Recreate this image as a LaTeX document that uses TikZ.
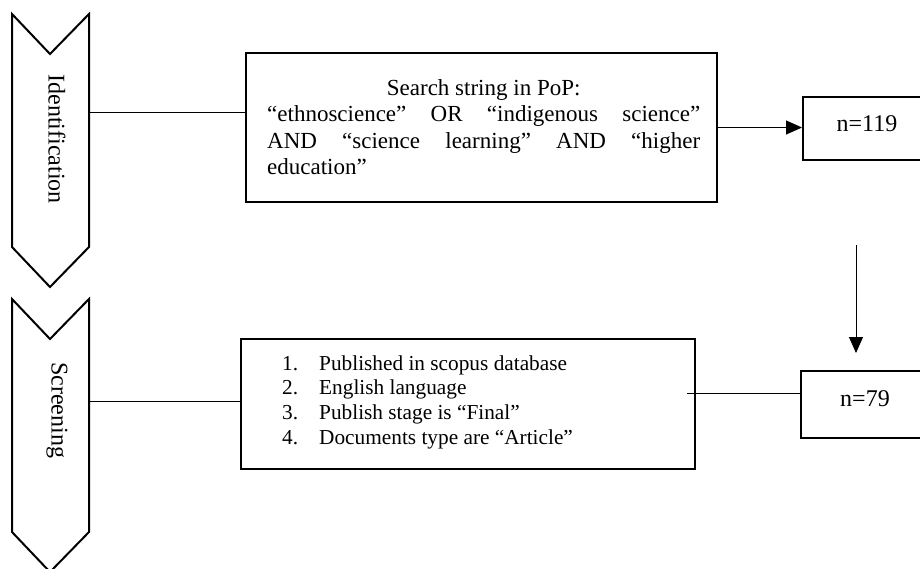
\documentclass[tikz,border=0pt]{standalone}
\usepackage{fontspec}
\setmainfont{Liberation Serif}
\usetikzlibrary{arrows.meta}
\begin{document}
\begin{tikzpicture}[x=1pt,y=-1pt,
  chev/.style={draw, line width=2pt, line join=miter},
  box/.style={draw, line width=2pt, inner sep=0pt},
  conn/.style={line width=1pt},
  arr/.style={line width=1pt, -{Triangle[length=16pt,width=14pt]}},
  lab/.style={font=\fontsize{24}{28}\selectfont, rotate=-90, inner sep=0pt},
  nfont/.style={font=\fontsize{24}{28}\selectfont},
  txt/.style={anchor=base west, inner sep=0pt},
  ]
\useasboundingbox (0,0) rectangle (920,568);
% chevrons
\draw[chev] (12,14) -- (50,54) -- (89,14) -- (89,247) -- (50,287) -- (12,247) -- cycle;
\draw[chev] (12,299) -- (50,339) -- (89,299) -- (89,532) -- (50,572) -- (12,532) -- cycle;
\node[lab] (ident) at (57,139) {Identification};
\node[lab] (screen) at (57,410) {Screening};
\coordinate (idE) at (89,112);
\coordinate (scE) at (89,401);
% boxes
\node[box, minimum width=471pt, minimum height=149pt] (search) at (481.5,127.5) {};
\node[txt, font=\fontsize{23}{26.5}\selectfont] (searchtxt) at (267,95) {\parbox[t]{433pt}{\centering
Search string in PoP:\par
\makebox[433pt][s]{“ethnoscience” OR “indigenous science”}\par
\makebox[433pt][s]{AND “science learning” AND “higher}\par
\makebox[433pt][l]{education”}}};
\node[box, minimum width=454pt, minimum height=130pt] (crit) at (468,404) {};
\node[txt, font=\fontsize{21.3}{24.7}\selectfont] (crittxt) at (282,370) {\parbox[t]{420pt}{%
\makebox[37pt][l]{1.}Published in scopus database\\
\makebox[37pt][l]{2.}English language\\
\makebox[37pt][l]{3.}Publish stage is “Final”\\
\makebox[37pt][l]{4.}Documents type are “Article”}};
\node[box, nfont, minimum width=128pt, minimum height=63pt] (n119) at (867,128.5) {\raisebox{-3pt}[0pt][0pt]{n=119}};
\node[box, nfont, minimum width=128pt, minimum height=67pt] (n79) at (865,404.5) {\raisebox{-2pt}[0pt][0pt]{n=79}};
% connectors
\draw[conn] (idE) -- (idE -| search.west);
\draw[conn] (scE) -- (scE -| crit.west);
\draw[arr] (search.east) -- (search.east -| n119.west);
\coordinate (vA) at (856,245);
\coordinate (vB) at (856,353);
\draw[arr] (vA) -- (vB);
\coordinate (cS) at (687,393);
\draw[conn] (cS) -- (cS -| n79.west);
\end{tikzpicture}
\end{document}
